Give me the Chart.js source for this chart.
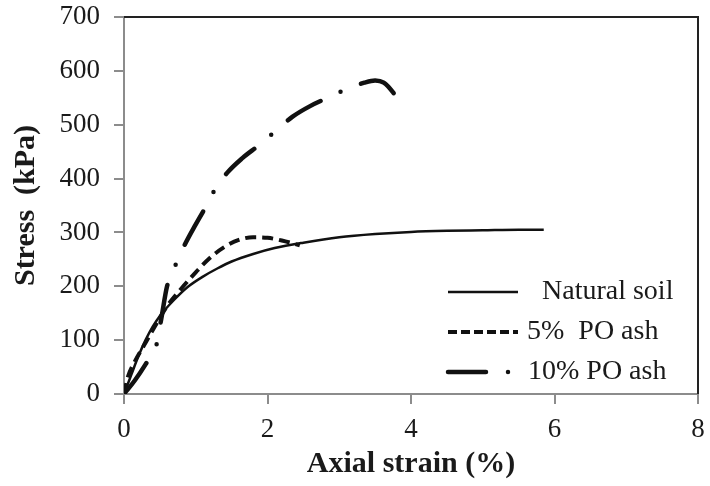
<!DOCTYPE html>
<html>
<head>
<meta charset="utf-8">
<script src="https://cdn.jsdelivr.net/npm/chart.js@4/dist/chart.umd.min.js"></script>
<style>
  html, body { margin: 0; padding: 0; background: #fff; }
  #wrap { width: 710px; height: 486px; }
</style>
</head>
<body>
<div id="wrap"><canvas id="c" width="710" height="486"></canvas></div>
<script>
// axial strain (%) / stress (kPa)
const naturalStrain = [0, 0.1, 0.2, 0.3, 0.4, 0.5, 0.7, 0.9, 1.1, 1.3, 1.5, 1.8, 2.1, 2.5, 3.0, 3.5, 4.0, 4.5, 5.0, 5.5, 5.85];
const naturalStress = [0, 35, 70, 100, 125, 145, 175, 200, 218, 233, 246, 260, 271, 281, 291, 297, 301, 303, 304, 305, 305];

const ash5Strain = [0, 0.05, 0.15, 0.3, 0.45, 0.6, 0.8, 1.0, 1.2, 1.4, 1.6, 1.8, 2.0, 2.2, 2.45];
const ash5Stress = [0, 30, 60, 95, 130, 163, 196, 226, 253, 273, 286, 291, 290, 285, 276];

const ash10Strain = [0, 0.15, 0.3, 0.45, 0.52, 0.6, 0.72, 0.85, 1.0, 1.12, 1.26, 1.44, 1.65, 1.89, 2.1, 2.35, 2.6, 2.84, 3.12, 3.35, 3.5, 3.62, 3.75, 3.86];
const ash10Stress = [0, 25, 55, 90, 140, 200, 240, 278, 315, 343, 378, 411, 438, 463, 487, 515, 535, 550, 567, 578, 582, 578, 560, 538];

const seriesNames = ['Natural soil', '5%  PO ash', '10% PO ash'];
const xTicks = [0, 2, 4, 6, 8];
const yTicks = [0, 100, 200, 300, 400, 500, 600, 700];

const serif = "'Liberation Serif', 'Times New Roman', serif";
const inkColor = '#1a1a1a';
const axisGray = '#8c8c8c';

const toPoints = (xs, ys) => xs.map((x, i) => ({ x: x, y: ys[i] }));

// Legend sits inside the plot, bottom right, so it is drawn by hand
const insideLegend = {
    id: 'insideLegend',
    afterDraw(chart) {
        const ctx = chart.ctx;
        const rows = [
            { y: 292, textX: 542 },
            { y: 332, textX: 527 },
            { y: 372, textX: 528 }
        ];
        chart.data.datasets.forEach((ds, i) => {
            const r = rows[i];
            ctx.save();
            ctx.strokeStyle = ds.borderColor;
            ctx.lineWidth = ds.borderWidth;
            ctx.lineCap = ds.borderCapStyle || 'butt';
            ctx.setLineDash(ds.legendDash || []);
            ctx.beginPath();
            ctx.moveTo(448, r.y);
            ctx.lineTo(518, r.y);
            ctx.stroke();
            ctx.restore();
            ctx.save();
            ctx.fillStyle = inkColor;
            ctx.font = '28px ' + serif;
            ctx.textBaseline = 'middle';
            ctx.fillText(ds.label, r.textX, r.y);
            ctx.restore();
        });
    }
};

// top and right edges of the plot frame are black
const plotFrame = {
    id: 'plotFrame',
    afterDraw(chart) {
        const a = chart.chartArea;
        const ctx = chart.ctx;
        ctx.save();
        ctx.strokeStyle = '#222';
        ctx.lineWidth = 2;
        ctx.beginPath();
        ctx.moveTo(a.left, a.top);
        ctx.lineTo(a.right, a.top);
        ctx.lineTo(a.right, a.bottom);
        ctx.stroke();
        ctx.restore();
    }
};

new Chart(document.getElementById('c'), {
    type: 'scatter',
    data: {
        datasets: [
            {
                label: seriesNames[0],
                data: toPoints(naturalStrain, naturalStress),
                showLine: true, borderColor: '#111', borderWidth: 2.5,
                pointRadius: 0, tension: 0.4, cubicInterpolationMode: 'monotone',
                legendDash: []
            },
            {
                label: seriesNames[1],
                data: toPoints(ash5Strain, ash5Stress),
                showLine: true, borderColor: '#111', borderWidth: 4,
                borderDash: [11, 6], pointRadius: 0, tension: 0.4,
                cubicInterpolationMode: 'monotone',
                legendDash: [9, 4]
            },
            {
                label: seriesNames[2],
                data: toPoints(ash10Strain, ash10Stress),
                showLine: true, borderColor: '#111', borderWidth: 4.5,
                borderDash: [38, 22, 0, 22], borderCapStyle: 'round',
                pointRadius: 0, tension: 0.4, cubicInterpolationMode: 'monotone',
                legendDash: [38, 22, 0, 22]
            }
        ]
    },
    options: {
        responsive: false,
        animation: false,
        layout: { padding: { top: 17, right: 12, left: 0, bottom: 0 } },
        plugins: {
            legend: { display: false },
            tooltip: { enabled: false }
        },
        scales: {
            x: {
                type: 'linear',
                min: 0, max: 8,
                afterFit: (s) => { s.height = 92; s.paddingLeft = 0; s.paddingRight = 0; },
                afterBuildTicks: (s) => { s.ticks = xTicks.map(v => ({ value: v })); },
                border: { color: axisGray, width: 2 },
                grid: { drawOnChartArea: false, color: axisGray, tickLength: 10, lineWidth: 2 },
                ticks: { color: inkColor, padding: 10, font: { family: serif, size: 27 } },
                title: {
                    display: true, text: 'Axial strain (%)', color: inkColor,
                    font: { family: serif, size: 30, weight: 'bold' },
                    padding: { top: 0, bottom: 4 }
                }
            },
            y: {
                type: 'linear',
                min: 0, max: 700,
                afterFit: (s) => { s.width = 124; s.paddingTop = 0; s.paddingBottom = 0; },
                afterBuildTicks: (s) => { s.ticks = yTicks.map(v => ({ value: v })); },
                border: { color: axisGray, width: 2 },
                grid: { drawOnChartArea: false, color: axisGray, tickLength: 10, lineWidth: 2 },
                ticks: { color: inkColor, padding: 14, font: { family: serif, size: 27 } },
                title: {
                    display: true, text: 'Stress  (kPa)', color: inkColor,
                    font: { family: serif, size: 30, weight: 'bold' },
                    padding: { top: 8, bottom: 0 }
                }
            }
        }
    },
    plugins: [plotFrame, insideLegend]
});
</script>
</body>
</html>
